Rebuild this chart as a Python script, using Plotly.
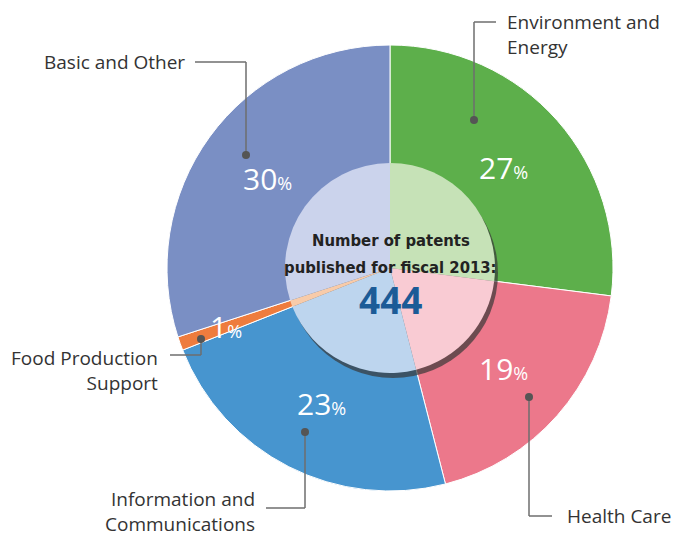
import math

import plotly.graph_objects as go

# data
categories = ["Environment and Energy", "Health Care", "Information and Communications",
              "Food Production Support", "Basic and Other"]
shares = [27, 19, 23, 1, 30]
total_patents = 444
center_lines = ["Number of patents", "published for fiscal 2013:"]
label_text = ["Environment and<br>Energy", "Health Care",
              "Information and<br>Communications", "Food Production<br>Support",
              "Basic and Other"]

outer_colors = ["#5daf4b", "#ec788b", "#4795cf", "#ee7c3e", "#7a8fc4"]
inner_colors = ["#c6e2b7", "#f9cbd3", "#bdd5ee", "#f8cba9", "#cbd3ec"]

W, H = 680, 540
CX, CY = 390, 268
R_OUT, R_IN = 223, 105


def px(x):
    return x / W


def py(y):
    return 1 - y / H


def domain(cx, cy, r):
    return dict(x=[px(cx - r), px(cx + r)], y=[py(cy + r), py(cy - r)])


fig = go.Figure()

fig.add_trace(go.Pie(
    labels=categories, values=shares, sort=False, direction="clockwise",
    marker=dict(colors=outer_colors, line=dict(color="white", width=1)),
    textinfo="none", hoverinfo="label+percent", showlegend=False,
    domain=domain(CX, CY, R_OUT),
))

# shadow under the inner disc
fig.add_trace(go.Pie(
    labels=["shadow"], values=[1], sort=False,
    marker=dict(colors=["rgba(55,55,55,0.7)"], line=dict(width=0)),
    textinfo="none", hoverinfo="skip", showlegend=False,
    domain=domain(CX + 3, CY + 5, R_IN),
))

fig.add_trace(go.Pie(
    labels=categories, values=shares, sort=False, direction="clockwise",
    marker=dict(colors=inner_colors, line=dict(width=0)),
    textinfo="none", hoverinfo="label+percent", showlegend=False,
    domain=domain(CX, CY, R_IN),
))

# percentage labels at the slice mid angles
annotations = []
cum = 0
for name, v in zip(categories, shares):
    mid = (cum + v / 2) / sum(shares) * 2 * math.pi
    cum += v
    r = 0.68 * R_OUT if v > 3 else 0.78 * R_OUT
    x = CX + r * math.sin(mid)
    y = CY - r * math.cos(mid)
    annotations.append(dict(
        x=px(x), y=py(y), xref="paper", yref="paper", showarrow=False,
        xanchor="center", yanchor="middle",
        text=f"{v}<span style='font-size:18px'>%</span>",
        font=dict(family="Open Sans", size=30, color="white"),
    ))

# centre text
center_font = dict(family="DejaVu Sans Condensed, Roboto Condensed, Roboto, sans-serif",
                   size=16.5, color="#222222")
for txt, y in zip(center_lines, [240, 268]):
    annotations.append(dict(
        x=px(391), y=py(y), xref="paper", yref="paper", showarrow=False,
        xanchor="center", yanchor="middle", text=f"<b>{txt}</b>", font=center_font,
    ))
annotations.append(dict(
    x=px(391), y=py(299), xref="paper", yref="paper", showarrow=False,
    xanchor="center", yanchor="middle",
    text=f"<b>{total_patents}</b>",
    font=dict(family="Open Sans", size=37, color="#1b5b97"),
))

# category labels with leader lines
label_font = dict(family="Open Sans", size=19, color="#333333")
leaders = [
    # dot, corner, end, text pos, anchor
    ((474, 120), (474, 22), (496, 22), (505, 35), "left"),
    ((529, 397), (529, 516), (552, 516), (565, 516), "left"),
    ((305, 432), (305, 508), (266, 508), (257, 511), "right"),
    ((201, 339), (201, 355), (170, 355), (160, 370), "right"),
    ((246, 155), (246, 62), (195, 62), (187, 62), "right"),
]

shapes = []
line_style = dict(color="#6e6e6e", width=1.5)
for (dot, corner, end, tpos, anchor), txt in zip(leaders, label_text):
    shapes.append(dict(type="line", xref="paper", yref="paper",
                       x0=px(dot[0]), y0=py(dot[1]), x1=px(corner[0]), y1=py(corner[1]),
                       line=line_style))
    shapes.append(dict(type="line", xref="paper", yref="paper",
                       x0=px(corner[0]), y0=py(corner[1]), x1=px(end[0]), y1=py(end[1]),
                       line=line_style))
    shapes.append(dict(type="circle", xref="paper", yref="paper",
                       x0=px(dot[0] - 4), y0=py(dot[1] + 4), x1=px(dot[0] + 4), y1=py(dot[1] - 4),
                       fillcolor="#555555", line=dict(width=0)))
    annotations.append(dict(
        x=px(tpos[0]), y=py(tpos[1]), xref="paper", yref="paper", showarrow=False,
        xanchor=anchor, yanchor="middle", align=anchor, text=txt, font=label_font,
    ))

fig.update_layout(
    width=W, height=H,
    margin=dict(l=0, r=0, t=0, b=0),
    paper_bgcolor="white", plot_bgcolor="white",
    annotations=annotations, shapes=shapes,
)

fig.write_html("out.html", config={"displayModeBar": False},
               post_script="document.body.style.margin = '0px';")
